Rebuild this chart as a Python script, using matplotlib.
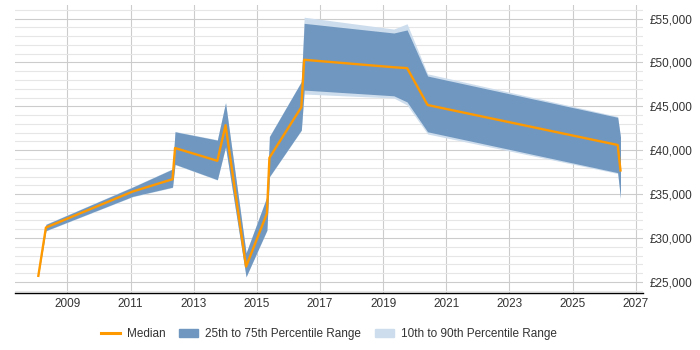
import matplotlib
matplotlib.use("Agg")
import matplotlib.pyplot as plt
from matplotlib.lines import Line2D
from matplotlib.patches import Patch
from matplotlib.ticker import FuncFormatter, MultipleLocator

# ---------------------------------------------------------------- datos
years = [2008.08, 2008.32, 2011.07, 2012.33, 2012.41, 2013.75, 2014.01,
         2014.66, 2015.32, 2015.40, 2016.41, 2016.50, 2019.34, 2019.76,
         2020.41, 2026.43, 2026.52]
median = [25700, 31200, 35300, 36700, 40250, 38800, 42850,
          26750, 32800, 39150, 44900, 50300, 49450, 49350,
          45150, 40600, 37700]
p25 = [25650, 30850, 34750, 35800, 38400, 36650, 40400,
       25600, 30900, 37000, 42300, 46850, 46200, 45500,
       42100, 37450, 34550]
p75 = [25750, 31550, 35800, 37850, 42100, 41150, 45400,
       28300, 34700, 41550, 47800, 54450, 53350, 53700,
       48450, 43750, 41500]
p10 = [25650, 30800, 34700, 35750, 38350, 36600, 40350,
       25550, 30850, 36950, 42250, 46400, 45950, 45150,
       41850, 37350, 34500]
p90 = [25750, 31600, 35850, 37900, 42150, 41200, 45450,
       28350, 34750, 41600, 47850, 55150, 53800, 54400,
       48700, 43850, 41550]

ORANGE = "#ff9900"
DARK_BAND = "#7097bf"
LIGHT_BAND = "#cddded"
TEXT = "#333333"

plt.rcParams["font.family"] = ["Liberation Sans", "DejaVu Sans"]

fig = plt.figure(figsize=(7, 3.5), dpi=100)
ax = fig.add_axes([0.0214, 0.163, 0.8966, 0.823])

ax.fill_between(years, p10, p90, color=LIGHT_BAND, linewidth=0, zorder=2)
ax.fill_between(years, p25, p75, color=DARK_BAND, linewidth=0, zorder=3)
ax.plot(years, median, color=ORANGE, linewidth=1.7, zorder=4)

ax.set_xlim(2007.34, 2027.22)
ax.set_ylim(23750, 56550)
ax.set_xticks(range(2009, 2028, 2))
ax.yaxis.set_major_locator(MultipleLocator(5000))
ax.yaxis.set_minor_locator(MultipleLocator(1000))
ax.yaxis.set_major_formatter(FuncFormatter(lambda v, _: f"£{v:,.0f}"))
ax.yaxis.tick_right()

ax.grid(True, which="major", color="#cccccc", linewidth=0.8, zorder=0)
ax.grid(True, which="minor", axis="y", color="#e6e6e6", linewidth=0.8, zorder=0)
ax.set_axisbelow(True)
ax.tick_params(which="both", length=0, labelsize=8.5, colors=TEXT)
ax.tick_params(axis="y", pad=5)
for side in ("top", "left", "right"):
    ax.spines[side].set_visible(False)
ax.spines["bottom"].set_color("#000000")
ax.spines["bottom"].set_linewidth(1)

handles = [Line2D([], [], color=ORANGE, linewidth=2.2),
           Patch(color=DARK_BAND), Patch(color=LIGHT_BAND)]
labels = ["Median", "25th to 75th Percentile Range", "10th to 90th Percentile Range"]
fig.legend(handles, labels, loc="center", bbox_to_anchor=(0.47, 0.045),
           ncols=3, frameon=False, fontsize=8.5, handlelength=1.6,
           columnspacing=1.2, handletextpad=0.6, labelcolor=TEXT)

fig.savefig("out.png", dpi=100)
